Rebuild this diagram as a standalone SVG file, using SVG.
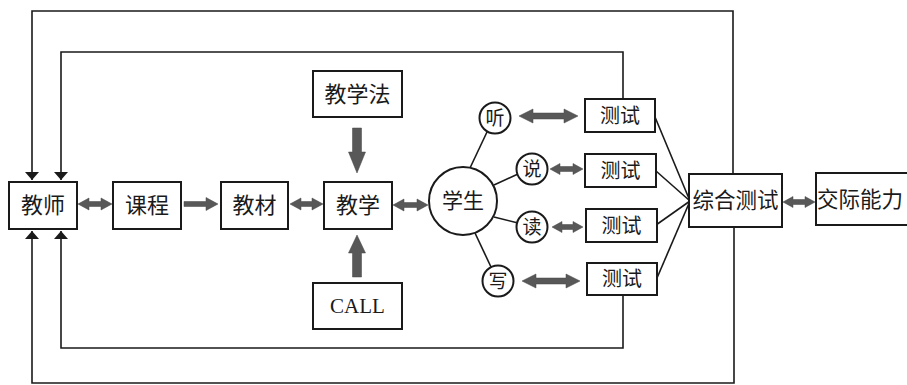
<svg xmlns="http://www.w3.org/2000/svg" width="907" height="385" viewBox="0 0 907 385">
<defs>
<style>
.box{fill:#fff;stroke:#1a1a1a;stroke-width:2}
.t{font-family:"Liberation Serif","Noto Sans CJK SC",serif;fill:#1a1a1a;text-anchor:middle;dominant-baseline:central}
.ln{fill:none;stroke:#1a1a1a;stroke-width:1.6}
.ga{fill:#585858;stroke:#444;stroke-width:0.5}
</style>
<marker id="ah" viewBox="0 0 8 14" refX="8" refY="7" markerWidth="8" markerHeight="14" markerUnits="userSpaceOnUse" orient="auto">
<path d="M0,0 L8,7 L0,14 Z" fill="#1a1a1a"/>
</marker>
</defs>
<rect width="907" height="385" fill="#fff"/>

<g id="connectors">
<polyline class="ln" points="733,174 733,11 32,11 32,180" marker-end="url(#ah)"/>
<polyline class="ln" points="623,99 623,52 61,52 61,180" marker-end="url(#ah)"/>
<polyline class="ln" points="623,295 623,348 61,348 61,231" marker-end="url(#ah)"/>
<polyline class="ln" points="734,227 734,383 32,383 32,231" marker-end="url(#ah)"/>
<line class="ln" x1="655" y1="117" x2="690" y2="201"/>
<line class="ln" x1="656" y1="171" x2="690" y2="201"/>
<line class="ln" x1="656" y1="225" x2="690" y2="201"/>
<line class="ln" x1="657" y1="278" x2="690" y2="201"/>
<line class="ln" x1="470" y1="168" x2="487" y2="132"/>
<line class="ln" x1="494" y1="185" x2="518" y2="174"/>
<line class="ln" x1="494" y1="217" x2="518" y2="223"/>
<line class="ln" x1="475" y1="233" x2="491" y2="267"/>
<path class="ga" d="M78,204 L89,198 L89,201.5 L101,201.5 L101,198 L112,204 L101,210 L101,206.5 L89,206.5 L89,210 Z"/>
<path class="ga" d="M184,201.5 L206,201.5 L206,197.5 L218,204 L206,210.5 L206,206.5 L184,206.5 Z"/>
<path class="ga" d="M290,204 L301,198 L301,201.5 L312,201.5 L312,198 L323,204 L312,210 L312,206.5 L301,206.5 L301,210 Z"/>
<path class="ga" d="M393,205 L404,199 L404,202.5 L417,202.5 L417,199 L428,205 L417,211 L417,207.5 L404,207.5 L404,211 Z"/>
<path class="ga" d="M519,116 L533,109 L533,113 L564,113 L564,109 L578,116 L564,123 L564,119 L533,119 L533,123 Z"/>
<path class="ga" d="M550,169 L560,163.5 L560,166.5 L573,166.5 L573,163.5 L583,169 L573,174.5 L573,171.5 L560,171.5 L560,174.5 Z"/>
<path class="ga" d="M552,227 L562,221.5 L562,224.5 L573,224.5 L573,221.5 L583,227 L573,232.5 L573,229.5 L562,229.5 L562,232.5 Z"/>
<path class="ga" d="M522,281 L536,274 L536,278 L566,278 L566,274 L580,281 L566,288 L566,284 L536,284 L536,288 Z"/>
<path class="ga" d="M783,202 L793,196.5 L793,199.5 L805,199.5 L805,196.5 L815,202 L805,207.5 L805,204.5 L793,204.5 L793,207.5 Z"/>
<path class="ga" d="M352.5,128 L361.5,128 L361.5,152 L365.5,152 L357,173 L348.5,152 L352.5,152 Z"/>
<path class="ga" d="M352.5,277 L361.5,277 L361.5,253 L365.5,253 L357,235 L348.5,253 L352.5,253 Z"/>
</g>

<g id="jiaoshi"><rect class="box" x="9" y="182" width="68" height="47"/><text class="t" x="43" y="205.5" font-size="22">教师</text></g>
<g id="kecheng"><rect class="box" x="113" y="182" width="68" height="47"/><text class="t" x="147" y="205.5" font-size="22">课程</text></g>
<g id="jiaocai"><rect class="box" x="221" y="182" width="67" height="47"/><text class="t" x="254.5" y="205.5" font-size="22">教材</text></g>
<g id="jiaoxue"><rect class="box" x="324" y="182" width="68" height="47"/><text class="t" x="358" y="205.5" font-size="22">教学</text></g>
<g id="jiaoxuefa"><rect class="box" x="313" y="71" width="89" height="46"/><text class="t" x="357.5" y="94" font-size="22">教学法</text></g>
<g id="call"><rect class="box" x="313" y="283" width="89" height="46"/><text class="t" x="357.5" y="306" font-size="21">CALL</text></g>
<g id="xuesheng"><circle class="box" cx="463" cy="201" r="34"/><text class="t" x="463" y="201" font-size="21">学生</text></g>
<g id="ting"><circle class="box" cx="495" cy="118" r="15.5" stroke-width="1.6"/><text class="t" x="495" y="118" font-size="19">听</text></g>
<g id="shuo"><circle class="box" cx="532" cy="169" r="15.5" stroke-width="1.6"/><text class="t" x="532" y="169" font-size="19">说</text></g>
<g id="du"><circle class="box" cx="532" cy="227" r="15.5" stroke-width="1.6"/><text class="t" x="532" y="227" font-size="19">读</text></g>
<g id="xie"><circle class="box" cx="498" cy="281" r="15.5" stroke-width="1.6"/><text class="t" x="498" y="281" font-size="19">写</text></g>
<g id="ceshi1"><rect class="box" x="585" y="99" width="70" height="33"/><text class="t" x="620" y="115.5" font-size="20">测试</text></g>
<g id="ceshi2"><rect class="box" x="585" y="154" width="71" height="33"/><text class="t" x="620.5" y="170.5" font-size="20">测试</text></g>
<g id="ceshi3"><rect class="box" x="586" y="209" width="71" height="33"/><text class="t" x="621.5" y="225.5" font-size="20">测试</text></g>
<g id="ceshi4"><rect class="box" x="587" y="263" width="70" height="32"/><text class="t" x="622" y="279" font-size="20">测试</text></g>
<g id="zonghe"><rect class="box" x="689" y="174" width="93" height="53"/><text class="t" x="735.5" y="201" font-size="21.5">综合测试</text></g>
<g id="jiaoji"><rect class="box" x="816" y="173" width="100" height="52"/><text class="t" x="860" y="200" font-size="21.5">交际能力</text></g>
</svg>
